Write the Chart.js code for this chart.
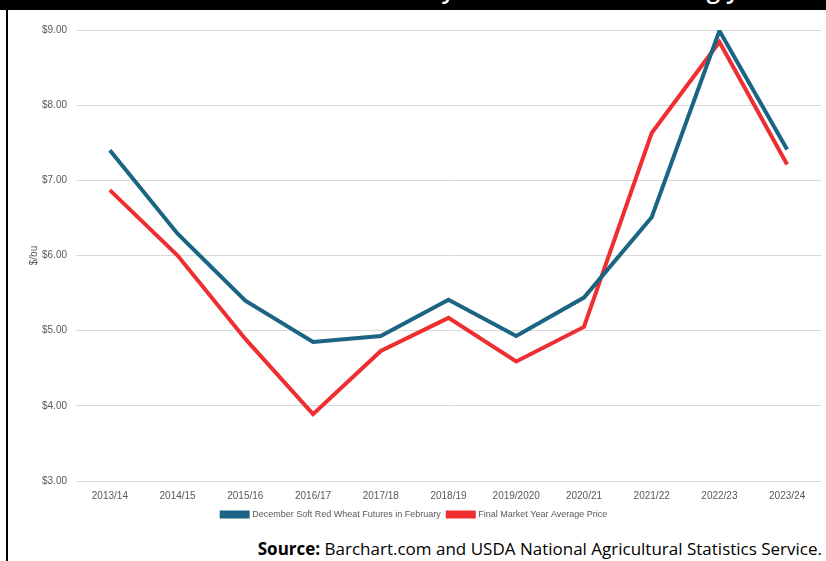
<!DOCTYPE html>
<html>
<head>
<meta charset="utf-8">
<script src="https://cdn.jsdelivr.net/npm/chart.js@4.4.1/dist/chart.umd.min.js"></script>
<style>
  body { margin: 0; background: #fff; }
  #wrap { position: relative; width: 826px; height: 561px; overflow: hidden; background: #fff; }
  #band { position: absolute; left: 0; top: 0; width: 826px; height: 10px; background: #000; overflow: hidden; }
  #band span { position: absolute; left: 150px; top: -27px; color: #fff; font: 600 24px/32px "Open Sans", sans-serif; white-space: nowrap; }
  #edge { position: absolute; left: 6px; top: 10px; width: 2px; height: 551px; background: #000; }
  #box { position: absolute; left: 8px; top: 10px; width: 818px; height: 522px; }
  #source { position: absolute; right: 4px; top: 537px; font: 17px "Open Sans", sans-serif; color: #000; white-space: nowrap; }
</style>
</head>
<body>
<div id="wrap">
  <div id="band"><span>Wheat futures in February vs. the final marketing year average price</span></div>
  <div id="edge"></div>
  <div id="box"><canvas id="wheatChart"></canvas></div>
  <div id="source"><b>Source:</b> Barchart.com and USDA National Agricultural Statistics Service.</div>
</div>
<script>
var years = ["2013/14", "2014/15", "2015/16", "2016/17", "2017/18", "2018/19", "2019/2020", "2020/21", "2021/22", "2022/23", "2023/24"];
var futuresFeb = [7.40, 6.29, 5.40, 4.85, 4.93, 5.41, 4.93, 5.44, 6.51, 8.99, 7.41];
var finalAvg = [6.87, 6.00, 4.89, 3.89, 4.73, 5.17, 4.59, 5.05, 7.63, 8.84, 7.21];
var seriesNames = ["December Soft Red Wheat Futures in February", "Final Market Year Average Price"];

Chart.defaults.font.family = "'Liberation Sans', Arial, sans-serif";
Chart.defaults.color = "#595959";

var chart = new Chart("wheatChart", {
    type: "line",
    data: {
        labels: years,
        datasets: [{
            label: seriesNames[0],
            data: futuresFeb,
            borderColor: "#1b6483",
            backgroundColor: "#1b6483",
            borderWidth: 4,
            pointRadius: 0,
            tension: 0
        }, {
            label: seriesNames[1],
            data: finalAvg,
            borderColor: "#ee2e31",
            backgroundColor: "#ee2e31",
            borderWidth: 4,
            pointRadius: 0,
            tension: 0
        }]
    },
    options: {
        responsive: true,
        maintainAspectRatio: false,
        animation: false,
        layout: { padding: { top: 20, right: 5, left: 0, bottom: 3 } },
        plugins: {
            legend: {
                position: "bottom",
                labels: {
                    boxWidth: 26,
                    boxHeight: 4,
                    padding: 7,
                    font: { size: 9 },
                    color: "#595959"
                }
            },
            tooltip: { enabled: false }
        },
        scales: {
            x: {
                offset: true,
                grid: { display: false },
                border: { display: false },
                ticks: { font: { size: 10 }, maxRotation: 0, padding: 1 }
            },
            y: {
                min: 3,
                max: 9,
                ticks: {
                    stepSize: 1,
                    font: { size: 10 },
                    padding: 9,
                    callback: function (v) { return "$" + v.toFixed(2); }
                },
                grid: { color: "#d9d9d9", drawTicks: false },
                border: { display: false },
                title: { display: true, text: "$/bu", font: { size: 10 }, padding: { top: 20, bottom: 0 } },
                afterFit: function (scale) { scale.width = 68; }
            }
        }
    }
});
</script>
</body>
</html>
